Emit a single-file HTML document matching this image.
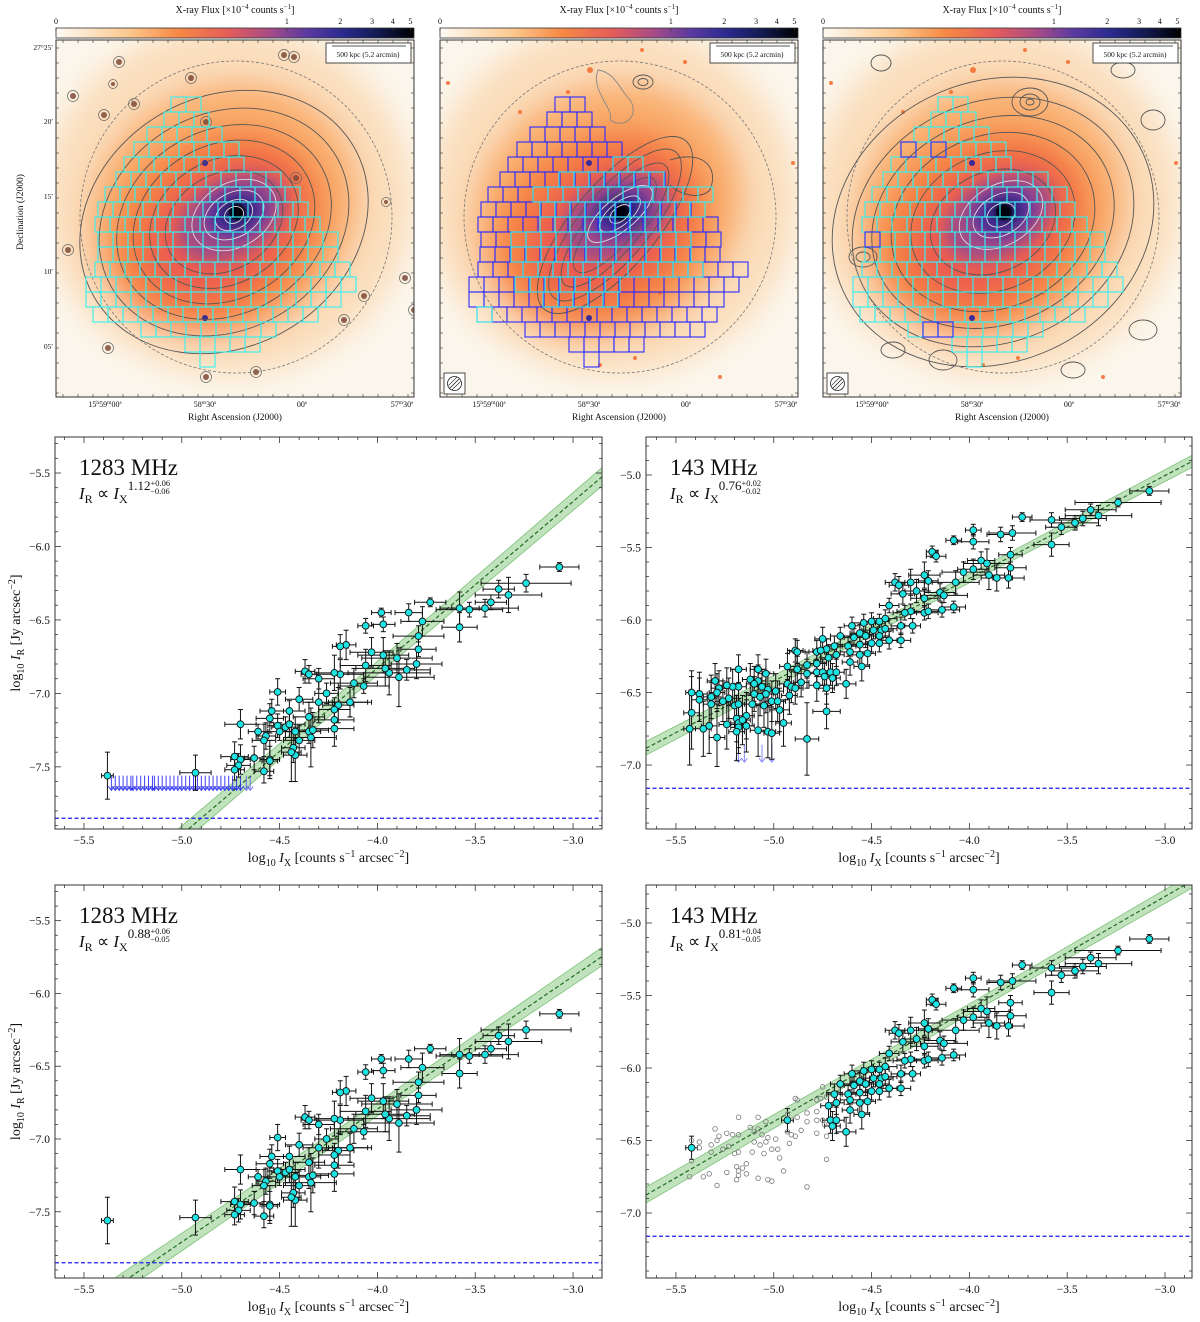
<!DOCTYPE html>
<html><head><meta charset="utf-8"><title>Radio–X-ray correlation</title>
<style>
html,body{margin:0;padding:0;background:#fff;}
svg{display:block;font-family:"Liberation Serif",serif;}
</style></head>
<body>
<svg id="fig" width="1200" height="1322" viewBox="0 0 1200 1322" xmlns="http://www.w3.org/2000/svg">
<defs>
<linearGradient id="cmap" x1="0" x2="1" y1="0" y2="0">
<stop offset="0" stop-color="#fdfaf3"/><stop offset="0.2" stop-color="#fbc98f"/><stop offset="0.34" stop-color="#f78a45"/>
<stop offset="0.48" stop-color="#e65d5a"/><stop offset="0.6" stop-color="#a54b88"/><stop offset="0.7" stop-color="#5b3aa0"/>
<stop offset="0.8" stop-color="#2b2a90"/><stop offset="0.9" stop-color="#121a50"/><stop offset="1" stop-color="#000"/>
</linearGradient>
<filter id="blur1" x="-50%" y="-50%" width="200%" height="200%"><feGaussianBlur stdDeviation="14"/></filter>
<filter id="blur2" x="-50%" y="-50%" width="200%" height="200%"><feGaussianBlur stdDeviation="7"/></filter>
<filter id="blur3" x="-50%" y="-50%" width="200%" height="200%"><feGaussianBlur stdDeviation="1.2"/></filter>
<clipPath id="imgclip"><rect x="0" y="40" width="358" height="357"/></clipPath>
</defs>
<g id="images"></g>
<g id="charts"></g>
</svg>
<script>
// ---------- chart data (1283 MHz) ----------
const x1283=[-3.07,-3.24,-3.38,-3.33,-3.42,-3.45,-3.53,-3.58,-3.58,-3.73,
-3.77,-3.84,-3.98,-3.97,-4.06,-3.79,-3.79,-3.80,-3.85,-3.89,
-3.94,-3.96,-3.90,-3.97,-4.03,-4.06,-4.07,-4.12,-4.16,-4.19,
-4.19,-4.22,-4.37,-4.35,-4.30,-4.26,-4.40,-4.51,-4.30,-4.20,
-4.22,-4.14,-4.14,-4.22,-4.22,-4.35,-4.45,-4.54,-4.55,-4.70,
-4.61,-4.51,-4.50,-4.47,-4.45,-4.42,-4.35,-4.33,-4.34,-4.40,
-4.43,-4.42,-4.44,-4.57,-4.58,-4.63,-4.73,-4.70,-4.71,-4.73,
-4.55,-4.55,-4.58,-4.93,-5.38];
const y1283=[-6.14,-6.25,-6.29,-6.33,-6.38,-6.42,-6.43,-6.42,-6.55,-6.38,
-6.51,-6.45,-6.45,-6.53,-6.54,-6.61,-6.70,-6.80,-6.84,-6.89,
-6.86,-6.83,-6.76,-6.74,-6.72,-6.81,-6.95,-6.93,-6.67,-6.68,
-6.87,-6.86,-6.85,-6.87,-6.90,-7.00,-7.04,-6.99,-7.06,-7.08,
-7.11,-7.06,-7.06,-7.18,-7.24,-7.16,-7.12,-7.12,-7.17,-7.21,
-7.26,-7.22,-7.26,-7.23,-7.21,-7.26,-7.26,-7.25,-7.30,-7.32,
-7.37,-7.42,-7.40,-7.29,-7.32,-7.44,-7.43,-7.45,-7.49,-7.52,
-7.45,-7.46,-7.53,-7.54,-7.56];
const xe1283=[0.10,0.23,0.08,0.17,0.08,0.17,0.17,0.10,0.09,0.08,0.11,0.07,0.05,0.06,0.04,0.13,0.09,0.13,0.12,0.18,
0.21,0.15,0.18,0.13,0.11,0.13,0.13,0.12,0.05,0.04,0.12,0.10,0.05,0.04,0.08,0.06,0.07,0.04,0.08,0.08,
0.08,0.11,0.09,0.10,0.10,0.08,0.08,0.06,0.07,0.08,0.05,0.05,0.06,0.07,0.08,0.08,0.06,0.08,0.13,0.08,
0.06,0.06,0.05,0.05,0.06,0.05,0.07,0.05,0.06,0.05,0.05,0.04,0.05,0.08,0.03];
const ye1283=[0.03,0.06,0.06,0.12,0.05,0.06,0.05,0.11,0.10,0.03,0.10,0.06,0.03,0.05,0.05,0.07,0.05,0.10,0.07,0.20,
0.15,0.12,0.10,0.12,0.10,0.11,0.05,0.10,0.10,0.08,0.10,0.12,0.08,0.06,0.07,0.07,0.08,0.09,0.14,0.12,
0.08,0.10,0.10,0.08,0.12,0.10,0.07,0.08,0.10,0.10,0.05,0.08,0.06,0.07,0.09,0.10,0.08,0.12,0.20,0.10,
0.10,0.18,0.20,0.09,0.11,0.08,0.10,0.10,0.08,0.07,0.13,0.10,0.08,0.12,0.16];
const ulx1283=[-5.36,-5.34,-5.32,-5.30,-5.28,-5.26,-5.25,-5.23,-5.21,-5.19,-5.17,-5.15,-5.14,-5.12,-5.10,-5.08,-5.06,-5.04,-5.02,-5.00,-4.98,-4.96,-4.94,-4.92,-4.90,-4.88,-4.86,-4.84,-4.82,-4.80,-4.78,-4.76,-4.74,-4.72,-4.70,-4.67,-4.65];
const uly1283=-7.60;
const noise1283=-7.85;
// ---------- chart data (143 MHz) ----------
const x143=[-3.08,-3.24,-3.38,-3.34,-3.42,-3.46,-3.58,-3.53,-3.58,-3.73,
-3.78,-3.84,-3.98,-3.98,-4.08,-4.19,-4.17,-3.79,-3.79,-3.94,
-3.91,-3.98,-4.03,-3.90,-3.86,-3.80,-4.07,-4.23,-4.21,-4.30,
-4.38,-4.36,-4.27,-4.34,-4.15,-4.13,-4.23,-4.41,-4.08,-4.14,
-4.23,-4.21,-4.30,-4.33,-4.43,-4.46,-4.50,-4.54,-4.35,-4.29,
-4.60,-4.49,-4.45,-4.43,-4.56,-4.53,-4.46,-4.59,-4.66,-4.35,
-4.41,-4.46,-4.50,-4.56,-4.75,-4.62,-4.69,-4.73,-4.78,-4.76,
-4.89,-4.88,-4.61,-4.56,-4.52,-4.68,-4.72,-4.61,-4.78,-4.83,
-4.93,-4.55,-4.88,-4.78,-4.75,-4.71,-4.68,-4.83,-4.74,-4.70,
-4.86,-4.93,-4.91,-4.89,-4.63,-4.78,-4.73,-5.18,-5.08,-5.04,
-5.12,-5.08,-5.06,-5.10,-5.18,-5.21,-5.24,-5.30,-5.28,-5.29,
-5.23,-5.26,-5.32,-5.32,-5.38,-5.42,-5.38,-5.42,-5.20,-5.18,
-5.10,-5.03,-4.99,-5.04,-5.07,-5.05,-5.01,-4.98,-4.92,-5.11,
-4.97,-5.14,-5.19,-5.18,-5.16,-5.14,-5.18,-5.19,-5.08,-5.03,
-5.01,-4.95,-4.73,-4.83,-5.24,-5.33,-5.36,-5.43,-5.29];
const y143=[-5.11,-5.19,-5.24,-5.28,-5.30,-5.33,-5.31,-5.36,-5.48,-5.29,
-5.40,-5.41,-5.38,-5.46,-5.45,-5.53,-5.56,-5.55,-5.64,-5.59,
-5.61,-5.65,-5.67,-5.69,-5.71,-5.71,-5.74,-5.69,-5.73,-5.74,
-5.74,-5.76,-5.80,-5.82,-5.81,-5.83,-5.85,-5.90,-5.91,-5.93,
-5.95,-5.94,-5.94,-5.95,-5.99,-6.01,-6.01,-6.02,-6.04,-6.04,
-6.04,-6.07,-6.07,-6.06,-6.09,-6.11,-6.11,-6.12,-6.11,-6.14,
-6.14,-6.16,-6.16,-6.17,-6.13,-6.18,-6.18,-6.20,-6.22,-6.21,
-6.21,-6.22,-6.22,-6.24,-6.23,-6.24,-6.26,-6.29,-6.30,-6.31,
-6.32,-6.32,-6.34,-6.36,-6.36,-6.36,-6.36,-6.37,-6.39,-6.40,
-6.43,-6.44,-6.46,-6.47,-6.44,-6.45,-6.47,-6.34,-6.34,-6.37,
-6.41,-6.42,-6.46,-6.44,-6.46,-6.46,-6.45,-6.42,-6.47,-6.50,
-6.54,-6.56,-6.53,-6.58,-6.51,-6.50,-6.55,-6.64,-6.59,-6.58,
-6.51,-6.48,-6.49,-6.51,-6.53,-6.59,-6.56,-6.56,-6.52,-6.58,
-6.62,-6.66,-6.68,-6.71,-6.69,-6.73,-6.74,-6.77,-6.76,-6.77,
-6.78,-6.71,-6.63,-6.82,-6.72,-6.73,-6.75,-6.75,-6.81];
const xe143=[0.10,0.22,0.13,0.17,0.12,0.12,0.11,0.08,0.09,0.05,0.12,0.07,0.04,0.08,0.04,0.03,0.05,0.06,0.08,0.07,
0.12,0.08,0.11,0.08,0.08,0.08,0.12,0.08,0.05,0.07,0.05,0.05,0.06,0.06,0.08,0.12,0.07,0.05,0.06,0.09,
0.07,0.07,0.07,0.06,0.06,0.05,0.05,0.06,0.05,0.04,0.04,0.06,0.06,0.06,0.05,0.05,0.05,0.05,0.05,0.05,
0.04,0.05,0.05,0.04,0.04,0.04,0.04,0.05,0.04,0.04,0.04,0.04,0.05,0.04,0.04,0.04,0.04,0.04,0.05,0.04,
0.04,0.04,0.04,0.04,0.04,0.04,0.04,0.05,0.04,0.04,0.04,0.04,0.04,0.04,0.05,0.04,0.04,0.04,0.04,0.04,
0.04,0.04,0.04,0.04,0.04,0.04,0.04,0.04,0.04,0.04,0.04,0.04,0.04,0.04,0.04,0.03,0.04,0.04,0.04,0.04,
0.04,0.04,0.04,0.04,0.04,0.04,0.04,0.04,0.04,0.04,0.05,0.04,0.04,0.04,0.04,0.04,0.04,0.04,0.04,0.04,
0.04,0.04,0.07,0.06,0.04,0.04,0.04,0.03,0.04];
const ye143=[0.03,0.03,0.04,0.07,0.05,0.05,0.05,0.05,0.08,0.03,0.05,0.05,0.04,0.05,0.03,0.04,0.04,0.05,0.08,0.06,
0.10,0.07,0.07,0.10,0.09,0.07,0.08,0.09,0.07,0.09,0.06,0.06,0.08,0.07,0.06,0.05,0.06,0.05,0.04,0.05,
0.05,0.05,0.05,0.05,0.06,0.05,0.06,0.06,0.06,0.05,0.06,0.06,0.06,0.06,0.06,0.08,0.06,0.06,0.06,0.05,
0.06,0.06,0.06,0.07,0.08,0.07,0.07,0.07,0.08,0.08,0.08,0.08,0.07,0.08,0.08,0.08,0.09,0.09,0.09,0.09,
0.09,0.10,0.09,0.09,0.09,0.09,0.09,0.10,0.10,0.10,0.10,0.11,0.11,0.11,0.10,0.11,0.11,0.10,0.10,0.10,
0.11,0.11,0.12,0.12,0.12,0.12,0.12,0.12,0.12,0.13,0.14,0.14,0.15,0.15,0.15,0.15,0.15,0.25,0.15,0.15,
0.12,0.12,0.12,0.13,0.13,0.15,0.14,0.14,0.13,0.15,0.15,0.16,0.16,0.17,0.17,0.18,0.18,0.20,0.18,0.18,
0.18,0.16,0.12,0.25,0.17,0.19,0.19,0.25,0.20];
const ulx143=[-5.18,-5.15,-5.06,-5.01];
const uly143=-6.86;
const noise143=-7.16;
const cutBottom143=-4.725;
const extraX143=[-5.42,-4.93];
const extraY143=[-6.55,-6.36];
// fits: value at x=-4 and slope (mid-left, bottom-left, mid-right, bottom-right)
const fitIntercept=[-6.828,-6.795,-5.713,-5.593];
const fitSlope=[1.134,0.913,0.709,0.776];
const fitSigma=[0.045,0.045,0.03,0.035];
const xTicks=[-5.5,-5.0,-4.5,-4.0,-3.5,-3.0];
const xTickLabels=["\u22125.5","\u22125.0","\u22124.5","\u22124.0","\u22123.5","\u22123.0"];
const yTicksL=[-5.5,-6.0,-6.5,-7.0,-7.5];
const yTickLabelsL=["\u22125.5","\u22126.0","\u22126.5","\u22127.0","\u22127.5"];
const yTicksR=[-5.0,-5.5,-6.0,-6.5,-7.0];
const yTickLabelsR=["\u22125.0","\u22125.5","\u22126.0","\u22126.5","\u22127.0"];
const cbTicks=[0,1,2,3,4,5];
const cbTickFrac=[0,0.645,0.794,0.883,0.941,0.99];

const NS="http://www.w3.org/2000/svg";
function mk(tag,attrs,parent){const e=document.createElementNS(NS,tag);for(const k in attrs)e.setAttribute(k,attrs[k]);if(parent)parent.appendChild(e);return e;}
function txt(parent,x,y,s,size,anchor,extra){const t=mk('text',Object.assign({x:x,y:y,'font-size':size,'text-anchor':anchor||'start',fill:'#111'},extra||{}),parent);t.textContent=s;return t;}

// ================= IMAGE PANELS =================
const imgs=document.getElementById('images');
const panelLefts=[56,440,823];
const rows1=[[97,115,2],[112,108,3],[127,91,5],[142,78,7],[157,68,8],[172,60,11],[187,49,13],[202,42,14],[217,39,15],[232,42,16],[247,42,16],[262,39,17],[277,30,18],[292,30,17],[307,37,15],[322,85,9],[337,129,5],[352,144,1]];
const rows2blue=[[97,115,2],[112,107,3],[127,90,5],[142,77,7],[157,68,8],[172,60,11],[187,48,13],[202,41,14],[217,38,16],[232,41,16],[247,40,16],[262,38,18],[277,29,18],[292,29,17],[307,37,16],[322,85,12],[337,129,5],[352,144,1]];
const rows2cyan=[[157,173,2],[172,119,7],[187,93,12],[202,100,11],[217,100,9],[232,71,12],[247,71,12],[262,83,12],[277,75,7],[292,103,5],[307,37,1]];
const sources1=[[160,32,3],[228,55,3],[238,57,3],[135,78,3],[171,30,3],[150,122,3],[240,178,3],[308,296,3],[358,310,3],[288,320,3],[17,96,3],[48,115,3],[78,104,3],[63,62,3],[57,84,2],[12,250,3],[330,202,2],[349,278,3],[150,377,3],[200,372,3],[52,348,3]];
const sources2=[[150,70,3],[128,92,2],[80,112,2],[245,62,2],[353,163,2],[220,293,2],[195,358,2],[280,377,2],[202,50,2],[8,83,2],[160,365,2]];

function drawPanel(idx){
  const L=panelLefts[idx];
  const g=mk('g',{transform:'translate('+L+',0)'},imgs);
  
  
  const cb=mk('rect',{x:0,y:28,width:358,height:10,fill:'url(#cmap)',stroke:'#333','stroke-width':0.8},g);
  
  
  const cbt=txt(g,179,13,'',10,'middle');
  
  
  cbt.innerHTML='X-ray Flux [×10<tspan font-size="7" dy="-4">−4</tspan><tspan dy="4"> counts s</tspan><tspan font-size="7" dy="-4">−1</tspan><tspan dy="4">]</tspan>';
  for(let i=0;i<cbTicks.length;i++){
    const t=txt(g,cbTickFrac[i]*358,24,String(cbTicks[i]),8,'middle');
    
    
    mk('line',{x1:cbTickFrac[i]*358,x2:cbTickFrac[i]*358,y1:28,y2:31,stroke:'#333','stroke-width':0.6},g);
  }
  const im=mk('g',{'clip-path':'url(#imgclip)'},g);
  mk('rect',{x:0,y:40,width:358,height:357,fill:'#fbf6ec'},im);
  const blob=mk('g',{filter:'url(#blur1)'},im);
  mk('ellipse',{cx:172,cy:200,rx:185,ry:175,fill:'#fbdcb8',opacity:0.9},blob);
  mk('ellipse',{cx:168,cy:210,rx:140,ry:125,fill:'#f9b070',transform:'rotate(-30 168 210)'},blob);
  mk('ellipse',{cx:163,cy:228,rx:115,ry:95,fill:'#f6823f',transform:'rotate(-35 163 228)'},blob);
  mk('ellipse',{cx:168,cy:226,rx:88,ry:64,fill:'#ec5c50',transform:'rotate(-35 168 226)'},blob);
  const core=mk('g',{filter:'url(#blur2)'},im);
  mk('ellipse',{cx:176,cy:217,rx:58,ry:38,fill:'#a24c86',transform:'rotate(-30 176 217)'},core);
  mk('ellipse',{cx:180,cy:213,rx:32,ry:24,fill:'#4a2f9c',transform:'rotate(-20 180 213)'},core);
  mk('ellipse',{cx:181,cy:212,rx:15,ry:13,fill:'#141a55'},core);
  mk('circle',{cx:181,cy:212,r:8,fill:'#04040f',filter:'url(#blur3)'},im);
  const src=idx===0?sources1:sources2;
  for(const s of src){
    const c=mk('circle',{cx:s[0],cy:s[1],r:s[2],fill:idx===0?'#7a4a3a':'#f26a2a',opacity:0.85},im);
    
    
    if(idx===0) mk('circle',{cx:s[0],cy:s[1],r:s[2]+2.5,fill:'none',stroke:'#666','stroke-width':0.7},im);
  }
  mk('circle',{cx:149,cy:163,r:3,fill:'#3a2a9a'},im);
  mk('circle',{cx:149,cy:318,r:3,fill:'#3a2a9a'},im);
  const cg=mk('g',{fill:'none','stroke-width':0.9},im);
  
  
  if(idx===0){
    const sizes=[[150,125],[130,108],[112,92],[95,77],[78,62],[62,48]];
    for(const s of sizes) mk('ellipse',{cx:168,cy:222,rx:s[0],ry:s[1],stroke:'#555',transform:'rotate(-30 168 222)'},cg);
    const inner=[[45,32],[32,22],[20,14],[10,8]];
    for(const s of inner) mk('ellipse',{cx:178,cy:215,rx:s[0],ry:s[1],stroke:'#ddd',transform:'rotate(-30 178 215)'},cg);
  } else if(idx===1){
    const sizes=[[110,42],[95,34],[78,26],[60,20]];
    for(const s of sizes) mk('ellipse',{cx:175,cy:225,rx:s[0],ry:s[1],stroke:'#555',transform:'rotate(-50 175 225)'},cg);
    for(const s of [[40,16],[25,11],[12,7]]) mk('ellipse',{cx:180,cy:214,rx:s[0],ry:s[1],stroke:'#ddd',transform:'rotate(-40 180 214)'},cg);
    mk('path',{d:'M158 70 C150 90 175 110 170 120 C185 130 200 115 190 100 C180 90 175 72 158 70 Z',stroke:'#888'},cg);
    mk('ellipse',{cx:203,cy:82,rx:10,ry:7,stroke:'#555'},cg);
    mk('ellipse',{cx:203,cy:82,rx:5,ry:3.5,stroke:'#555'},cg);
    mk('path',{d:'M230 160 C260 150 280 165 270 190 C260 200 240 195 230 185',stroke:'#555'},cg);
  } else {
    const sizes=[[165,140],[145,120],[125,102],[105,86],[85,68],[65,50]];
    for(const s of sizes) mk('ellipse',{cx:170,cy:222,rx:s[0],ry:s[1],stroke:'#555',transform:'rotate(-25 170 222)'},cg);
    for(const s of [[45,30],[30,20],[15,11]]) mk('ellipse',{cx:178,cy:215,rx:s[0],ry:s[1],stroke:'#ddd',transform:'rotate(-30 178 215)'},cg);
    for(const s of [[207,102,18,14],[207,102,10,8],[207,102,4,3],[58,63,10,8],[300,70,12,8],[40,257,14,10],[40,257,7,5],[70,350,12,8],[120,360,14,10],[250,370,12,8],[320,330,14,10],[330,120,12,10]])
      mk('ellipse',{cx:s[0],cy:s[1],rx:s[2],ry:s[3],stroke:'#555'},cg);
  }
  const dc=mk('circle',{cx:180,cy:217,r:156,fill:'none',stroke:'#777','stroke-width':0.8,'stroke-dasharray':'3,2'},im);
  
  
  const gg=mk('g',{fill:'none','stroke-width':1.1},im);
  
  
  const drawRows=(rows,col)=>{for(const r of rows){for(let k=0;k<r[2];k++){mk('rect',{x:r[1]+k*15,y:r[0],width:15,height:15,stroke:col},gg);}}};
  if(idx===1){drawRows(rows2blue,'#2b2bff');drawRows(rows2cyan,'#33f0f0');}
  else {drawRows(rows1,'#33f0f0');}
  if(idx===2){drawRows([[142,78,1],[142,108,1],[232,42,1],[322,100,2]],'#2b2bff');}
  mk('rect',{x:0,y:40,width:358,height:357,fill:'none',stroke:'#333','stroke-width':1},g);
  for(let t=0;t<24;t++){const xx=7+t*15;mk('line',{x1:xx,x2:xx,y1:40,y2:43,stroke:'#333','stroke-width':0.6},g);mk('line',{x1:xx,x2:xx,y1:397,y2:394,stroke:'#333','stroke-width':0.6},g);mk('line',{x1:0,x2:3,y1:48+t*15,y2:48+t*15,stroke:'#333','stroke-width':0.6},g);mk('line',{x1:358,x2:355,y1:48+t*15,y2:48+t*15,stroke:'#333','stroke-width':0.6},g);}
  const sb=mk('g',{},g);
  
  
  mk('rect',{x:270,y:43,width:85,height:20,fill:'#fff',stroke:'#222','stroke-width':0.8},sb);
  mk('line',{x1:276,x2:350,y1:46,y2:46,stroke:'#222','stroke-width':0.8},sb);
  txt(sb,312,57,'500 kpc (5.2 arcmin)',7.5,'middle');
  if(idx>0){
    const bm=mk('g',{},g);
    
    
    mk('rect',{x:4,y:373,width:21,height:21,fill:'#fff',stroke:'#222','stroke-width':0.8},bm);
    mk('circle',{cx:14.5,cy:383.5,r:7,fill:'none',stroke:'#222','stroke-width':0.8},bm);
    mk('line',{x1:9.5,x2:19.5,y1:388.5,y2:378.5,stroke:'#222','stroke-width':0.8},bm);
    mk('line',{x1:12,x2:20.5,y1:390,y2:381.5,stroke:'#222','stroke-width':0.6},bm);
    mk('line',{x1:8.5,x2:17,y1:385.5,y2:377,stroke:'#222','stroke-width':0.6},bm);
  }
  const raLab=['15<tspan font-size="5.5" dy="-3">h</tspan><tspan dy="3">59</tspan><tspan font-size="5.5" dy="-3">m</tspan><tspan dy="3">00</tspan><tspan font-size="5.5" dy="-3">s</tspan>','58<tspan font-size="5.5" dy="-3">m</tspan><tspan dy="3">30</tspan><tspan font-size="5.5" dy="-3">s</tspan>','00<tspan font-size="5.5" dy="-3">s</tspan>','57<tspan font-size="5.5" dy="-3">m</tspan><tspan dy="3">30</tspan><tspan font-size="5.5" dy="-3">s</tspan>'];
  const raX=[49,149,246,346];
  for(let i=0;i<4;i++){const t=txt(g,raX[i],407,'',8,'middle');t.innerHTML=raLab[i];}
  const rl=txt(g,179,420,'Right Ascension (J2000)',9.5,'middle');
  
  
  if(idx===0){
    const decLab=['27°25′','20′','15′','10′','05′'];
    const decY=[50,124,199,274,349];
    for(let i=0;i<5;i++){const t=txt(g,-3,decY[i],decLab[i],7.5,'end');}
    const dl=txt(g,0,0,'Declination (J2000)',9.5,'middle',{transform:'translate(-33,212) rotate(-90)'});
    
    
  }
}
for(let i=0;i<3;i++) drawPanel(i);

// ================= SCATTER PANELS =================
const charts=document.getElementById('charts');
const panels=[
 {name:'scatter-1283mhz-top',L:55,R:602,T:437,B:829,x0:-5.648,x1:-2.852,y0:-7.923,y1:-5.255,freq:'1283 MHz',exp:'1.12',ep:'+0.06',em:'−0.06',fit:0,left:true},
 {name:'scatter-143mhz-top',L:646,R:1192,T:437,B:829,x0:-5.653,x1:-2.862,y0:-7.441,y1:-4.738,freq:'143 MHz',exp:'0.76',ep:'+0.02',em:'−0.02',fit:2,left:false},
 {name:'scatter-1283mhz-bottom',L:55,R:602,T:885,B:1278,x0:-5.648,x1:-2.852,y0:-7.955,y1:-5.255,freq:'1283 MHz',exp:'0.88',ep:'+0.06',em:'−0.05',fit:1,left:true},
 {name:'scatter-143mhz-bottom',L:646,R:1192,T:885,B:1278,x0:-5.653,x1:-2.862,y0:-7.448,y1:-4.738,freq:'143 MHz',exp:'0.81',ep:'+0.04',em:'−0.05',fit:3,left:false}
];
function drawScatter(pi){
  const p=panels[pi];
  const sx=v=>p.L+(v-p.x0)/(p.x1-p.x0)*(p.R-p.L);
  const sy=v=>p.B-(v-p.y0)/(p.y1-p.y0)*(p.B-p.T);
  const g=mk('g',{},charts);
  
  
  const cid='clip'+pi;
  const cp=mk('clipPath',{id:cid},g);mk('rect',{x:p.L,y:p.T,width:p.R-p.L,height:p.B-p.T},cp);
  const pl=mk('g',{'clip-path':'url(#'+cid+')'},g);
  const a=fitIntercept[p.fit],b=fitSlope[p.fit],s=fitSigma[p.fit];
  const fx=v=>a+b*(v+4);
  let up='',dn='';
  const N=20;
  for(let i=0;i<=N;i++){const xv=p.x0+(p.x1-p.x0)*i/N;const w=s*(1+0.35*Math.abs(xv+4));up+=(i?'L':'M')+sx(xv)+' '+sy(fx(xv)+w)+' ';}
  for(let i=N;i>=0;i--){const xv=p.x0+(p.x1-p.x0)*i/N;const w=s*(1+0.35*Math.abs(xv+4));dn+='L'+sx(xv)+' '+sy(fx(xv)-w)+' ';}
  const band=mk('path',{d:up+dn+'Z',fill:'#9ed49a','fill-opacity':0.65,stroke:'#7cc278','stroke-width':0.8},pl);
  
  
  const fl=mk('line',{x1:sx(p.x0),y1:sy(fx(p.x0)),x2:sx(p.x1),y2:sy(fx(p.x1)),stroke:'#1f6a1f','stroke-width':1.2,'stroke-dasharray':'4,2.5'},pl);
  
  
  const nl=p.left?noise1283:noise143;
  const nline=mk('line',{x1:p.L,x2:p.R,y1:sy(nl),y2:sy(nl),stroke:'#1a1aee','stroke-width':1.2,'stroke-dasharray':'4,2.5'},pl);
  
  
  if(pi<2){
    const ux=p.left?ulx1283:ulx143;const uy=p.left?uly1283:uly143;
    const col=p.left?'#2a2af0':'#7f7ff8';
    for(const u of ux){
      const y0=sy(uy+(p.left?0.04:0)),y1=sy(uy-(p.left?0.06:0.12));
      const ar=mk('g',{stroke:col,'stroke-width':1,fill:'none',opacity:(p.left&&u>-4.70)?0.6:0.9},pl);
      
      
      mk('line',{x1:sx(u),x2:sx(u),y1:y0,y2:y1},ar);
      mk('path',{d:'M'+(sx(u)-3)+' '+(y1-4)+' L'+sx(u)+' '+y1+' L'+(sx(u)+3)+' '+(y1-4)},ar);
    }
  }
  let X,Y,XE,YE;
  if(p.left){X=x1283;Y=y1283;XE=xe1283;YE=ye1283;}else{X=x143;Y=y143;XE=xe143;YE=ye143;}
  const eg=mk('g',{stroke:'#111','stroke-width':1},pl);
  
  
  const mg=mk('g',{},pl);
  
  
  const drawPt=(xv,yv,xe,ye)=>{
    const cx=sx(xv),cy=sy(yv),xl=sx(xv-xe),xr=sx(xv+xe),yt=sy(yv+ye),yb=sy(yv-ye);
    mk('line',{x1:xl,x2:xr,y1:cy,y2:cy},eg);mk('line',{x1:cx,x2:cx,y1:yt,y2:yb},eg);
    mk('line',{x1:xl,x2:xl,y1:cy-2.5,y2:cy+2.5},eg);mk('line',{x1:xr,x2:xr,y1:cy-2.5,y2:cy+2.5},eg);
    mk('line',{x1:cx-2.5,x2:cx+2.5,y1:yt,y2:yt},eg);mk('line',{x1:cx-2.5,x2:cx+2.5,y1:yb,y2:yb},eg);
    const c=mk('circle',{cx:cx,cy:cy,r:3.4,fill:'#1ee3e3',stroke:'#111','stroke-width':0.9},mg);
    
    
  };
  for(let i=0;i<X.length;i++){
    if(pi===3 && X[i]<=cutBottom143){
      const c=mk('circle',{cx:sx(X[i]),cy:sy(Y[i]),r:2.3,fill:'none',stroke:'#777','stroke-width':0.8},pl);
      
      
      continue;
    }
    drawPt(X[i],Y[i],XE[i],YE[i]);
  }
  if(pi===3){for(let i=0;i<extraX143.length;i++) drawPt(extraX143[i],extraY143[i],0.03,0.08);}
  const fr=mk('rect',{x:p.L,y:p.T,width:p.R-p.L,height:p.B-p.T,fill:'none',stroke:'#333','stroke-width':1},g);
  
  
  const tg=mk('g',{stroke:'#333','stroke-width':0.8},g);
  for(let k=-58;k<=-28;k++){const xv=k/10;if(xv<p.x0||xv>p.x1)continue;const major=(k%5===0);const l=major?6:3;
    mk('line',{x1:sx(xv),x2:sx(xv),y1:p.B,y2:p.B-l},tg);mk('line',{x1:sx(xv),x2:sx(xv),y1:p.T,y2:p.T+l},tg);}
  for(let k=-80;k<=-47;k++){const yv=k/10;if(yv<p.y0||yv>p.y1)continue;const major=(k%5===0);const l=major?6:3;
    mk('line',{x1:p.L,x2:p.L+l,y1:sy(yv),y2:sy(yv)},tg);mk('line',{x1:p.R,x2:p.R-l,y1:sy(yv),y2:sy(yv)},tg);}
  for(let i=0;i<xTicks.length;i++){const t=txt(g,sx(xTicks[i]),p.B+15,xTickLabels[i],11.5,'middle');}
  const yt=p.left?yTicksL:yTicksR,yl=p.left?yTickLabelsL:yTickLabelsR;
  for(let i=0;i<yt.length;i++){const t=txt(g,p.L-5,sy(yt[i])+4,yl[i],11.5,'end');}
  const xt=txt(g,(p.L+p.R)/2,p.B+33,'',14,'middle');
  xt.innerHTML='log<tspan font-size="10" dy="4">10</tspan><tspan dy="-4"> </tspan><tspan font-style="italic">I</tspan><tspan font-size="10" dy="4">X</tspan><tspan dy="-4"> [counts s</tspan><tspan font-size="10" dy="-5">−1</tspan><tspan dy="5">  arcsec</tspan><tspan font-size="10" dy="-5">−2</tspan><tspan dy="5">]</tspan>';
  
  
  if(p.left){
    const ytl=txt(g,0,0,'',14,'middle',{transform:'translate(20,'+((p.T+p.B)/2)+') rotate(-90)'});
    ytl.innerHTML='log<tspan font-size="10" dy="4">10</tspan><tspan dy="-4"> </tspan><tspan font-style="italic">I</tspan><tspan font-size="10" dy="4">R</tspan><tspan dy="-4"> [Jy arcsec</tspan><tspan font-size="10" dy="-5">−2</tspan><tspan dy="5">]</tspan>';
    
    
  }
  const ft=txt(g,p.L+24,p.T+38,p.freq,23,'start');
  
  
  const fm=txt(g,p.L+24,p.T+62,'',17,'start');
  fm.innerHTML='<tspan font-style="italic">I</tspan><tspan font-size="12" dy="4">R</tspan><tspan dy="-4"> ∝ </tspan><tspan font-style="italic">I</tspan><tspan font-size="12" dy="4">X</tspan><tspan font-size="13" dy="-13">'+p.exp+'</tspan><tspan font-size="8.5" dy="-4">'+p.ep+'</tspan><tspan font-size="8.5" dx="-20" dy="8">'+p.em+'</tspan>';
  
  
}
for(let i=0;i<4;i++) drawScatter(i);
</script>
</body></html>
